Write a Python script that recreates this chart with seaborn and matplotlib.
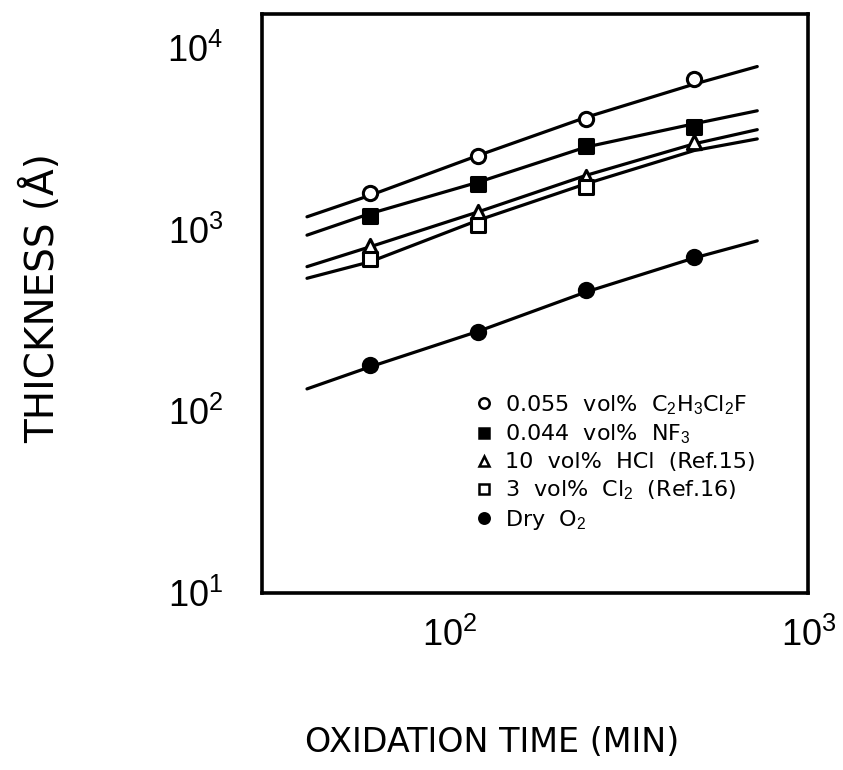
import matplotlib
matplotlib.use("Agg")
import matplotlib.pyplot as plt
import seaborn as sns
import pandas as pd
from matplotlib.lines import Line2D
from matplotlib.ticker import LogLocator, NullLocator

# ---- data ----
times = [60, 120, 240, 480]
times_cl2 = [60, 120, 240]
pts_c2h3cl2f = [1600, 2540, 4100, 6760]
pts_nf3 = [1190, 1800, 2880, 3700]
pts_hcl = [810, 1260, 1950, 3030]
pts_cl2 = [690, 1070, 1730]
pts_dry = [180, 275, 465, 705]

fit_times = [40, 60, 120, 240, 480, 720]
fit_c2h3cl2f = [1180, 1550, 2570, 4170, 6350, 7940]
fit_nf3 = [935, 1230, 1830, 2860, 3840, 4530]
fit_hcl = [627, 807, 1256, 1997, 2978, 3565]
fit_cl2 = [541, 667, 1130, 1795, 2735, 3170]
fit_dry = [133, 176, 276, 455, 700, 870]

labels = [
    "0.055  vol%  C$_2$H$_3$Cl$_2$F",
    "0.044  vol%  NF$_3$",
    "10  vol%  HCl  (Ref.15)",
    "3  vol%  Cl$_2$  (Ref.16)",
    "Dry  O$_2$",
]

sns.set_style("white")
plt.rcParams["font.family"] = ["Liberation Sans", "DejaVu Sans"]
plt.rcParams["text.color"] = "black"
plt.rcParams["axes.labelcolor"] = "black"
plt.rcParams["xtick.color"] = "black"
plt.rcParams["ytick.color"] = "black"
plt.rcParams["mathtext.fontset"] = "custom"
plt.rcParams["mathtext.rm"] = "Liberation Sans"
plt.rcParams["mathtext.it"] = "Liberation Sans"

fig = plt.figure(figsize=(8.43, 7.70), dpi=100)
ax = fig.add_axes([0.311, 0.230, 0.648, 0.752])

series_pts = [
    (times, pts_c2h3cl2f, "o", "white"),
    (times, pts_nf3, "s", "black"),
    (times, pts_hcl, "^", "white"),
    (times_cl2, pts_cl2, "s", "white"),
    (times, pts_dry, "o", "black"),
]
fits = [fit_c2h3cl2f, fit_nf3, fit_hcl, fit_cl2, fit_dry]

for fit in fits:
    df = pd.DataFrame({"t": fit_times, "v": fit})
    sns.lineplot(data=df, x="t", y="v", ax=ax, color="black", lw=2.3,
                 legend=False, sort=True)

for (tt, vv, m, fc) in series_pts:
    df = pd.DataFrame({"t": tt, "v": vv})
    sns.scatterplot(data=df, x="t", y="v", ax=ax, marker=m, s=105,
                    facecolor=fc, edgecolor="black", linewidth=2.2,
                    legend=False, zorder=5)

ax.set_xscale("log")
ax.set_yscale("log")
ax.set_xlim(30, 1000)
ax.set_ylim(10, 10 ** 4.19)
ax.xaxis.set_major_locator(LogLocator(base=10, numticks=10))
ax.yaxis.set_major_locator(LogLocator(base=10, numticks=10))
ax.xaxis.set_minor_locator(NullLocator())
ax.yaxis.set_minor_locator(NullLocator())
ax.tick_params(axis="both", which="major", direction="in", length=5,
               width=1.5, labelsize=26, pad=18, color="black",
               labelcolor="black")
ax.tick_params(axis="y", pad=28)
for sp in ax.spines.values():
    sp.set_visible(True)
    sp.set_linewidth(2.6)
    sp.set_color("black")

ax.set_xlabel("")
ax.set_ylabel("")
fig.text(492 / 843, 1 - 743 / 770, "OXIDATION TIME (MIN)", ha="center",
         va="center", fontsize=24, family=["DejaVu Sans"], color="black")
fig.text(42 / 843, 1 - 298 / 770, "THICKNESS (Å)", ha="center",
         va="center", rotation=90, fontsize=28, family=["DejaVu Sans"],
         color="black")

handles = [Line2D([], [], ls="none", marker=m, markersize=7.5,
                  markerfacecolor=fc, markeredgecolor="black",
                  markeredgewidth=1.8)
           for (_, _, m, fc) in series_pts]
leg = ax.legend(handles, labels, loc="upper left",
                bbox_to_anchor=(0.385, 0.345),
                frameon=False, handletextpad=0.45, labelspacing=0.27,
                handlelength=1.0, borderaxespad=0, borderpad=0,
                prop={"family": ["DejaVu Sans"], "size": 16})
for t in leg.get_texts():
    t.set_color("black")

fig.savefig("out.png", dpi=100, facecolor="white")
